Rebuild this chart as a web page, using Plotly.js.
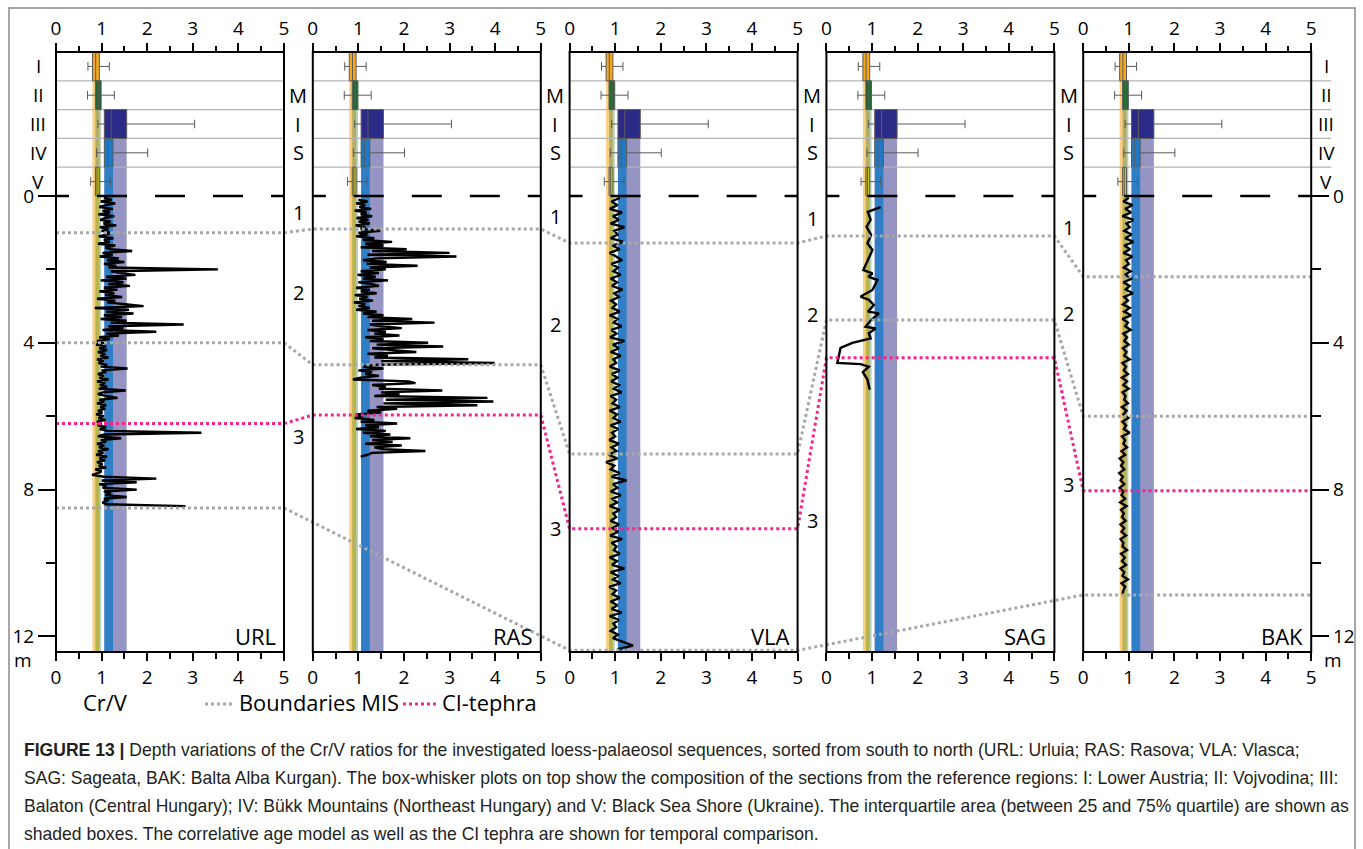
<!DOCTYPE html>
<html><head><meta charset="utf-8">
<script src="https://cdn.plot.ly/plotly-3.0.1.min.js"></script>
<style>html,body{margin:0;padding:0;background:#fff}#chart{width:1363px;height:849px}</style>
</head><body><div id="chart"></div>
<script>
// ---------------- DATA ----------------
const SECTIONS = ['URL', 'RAS', 'VLA', 'SAG', 'BAK'];
const REGIONS = ['I', 'II', 'III', 'IV', 'V'];
const X_TICKS = [0, 1, 2, 3, 4, 5];
const DEPTH_TICKS = [0, 4, 8, 12];

// Box-whisker statistics of Cr/V for the reference regions I..V
const BOX_LOW = [0.70, 0.69, 0.92, 0.89, 0.76];
const BOX_Q1 = [0.80, 0.865, 1.06, 1.06, 0.865];
const BOX_MEDIAN = [0.87, 0.93, 1.21, 1.13, 0.90];
const BOX_Q3 = [0.95, 0.99, 1.55, 1.25, 0.95];
const BOX_HIGH = [1.17, 1.28, 3.04, 2.01, 1.19];
const BOX_COLORS = ['#f6a81c', '#1d6b30', '#2b2a86', '#1f7ac6', '#c9c212'];

// Cr/V profiles (depth in m)
const URL_DEPTH_START = 0.05, URL_DEPTH_STEP = 0.05;
const URL_CRV = [1.05,1.22,0.98,1.30,1.10,0.95,1.25,1.02,1.18,0.93,1.28,1.08,0.97,1.20,1.04,1.32,0.96,1.15,1.00,1.22,
 1.10,0.94,1.26,1.05,1.18,0.92,1.30,1.08,1.20,1.67,1.02,1.24,0.96,1.38,1.12,1.50,1.05,1.32,1.15,3.55,
 1.20,1.42,1.74,1.10,1.55,0.98,1.48,1.15,1.62,1.05,1.35,0.95,1.28,1.08,1.45,0.90,1.30,1.12,1.52,1.92,
 0.85,1.60,1.10,1.70,1.05,1.45,0.98,1.55,1.20,2.80,1.15,1.48,1.02,2.20,1.10,1.38,0.95,1.18,0.90,1.05,
 0.88,1.10,0.95,1.12,0.92,1.08,0.97,1.15,0.90,1.05,0.93,1.12,0.98,1.57,1.00,1.10,0.92,1.05,0.95,1.15,
 0.90,1.08,0.96,1.12,0.94,1.53,1.02,0.92,1.10,1.35,0.95,1.06,0.90,1.10,0.97,1.08,0.92,1.02,0.88,1.05,
 0.93,1.08,0.90,1.00,0.92,1.10,0.96,1.12,3.19,1.05,0.92,1.43,0.98,1.10,0.90,1.06,0.94,1.15,0.92,1.04,
 0.88,1.12,0.95,1.08,0.90,1.02,0.94,1.10,0.86,1.00,0.92,0.79,1.05,2.20,1.00,1.77,0.95,1.10,1.02,1.77,
 1.05,1.20,1.08,1.55,1.05,1.15,1.02,1.10,2.84];

const RAS_DEPTH_START = 0.10, RAS_DEPTH_STEP = 0.05;
const RAS_CRV = [1.00,1.20,0.95,1.15,1.02,1.28,0.92,1.18,1.05,1.30,0.96,1.22,1.00,1.25,0.94,1.15,1.05,1.48,1.00,1.20,
 0.95,1.35,1.10,1.74,1.15,1.55,1.05,2.06,1.30,3.00,1.20,3.15,1.40,1.10,1.62,1.18,2.30,1.25,1.60,1.05,
 1.45,0.98,1.38,1.10,1.65,1.00,1.30,1.45,0.95,1.25,1.05,1.40,0.92,1.20,1.02,1.32,0.90,1.15,1.00,1.25,
 0.95,1.40,1.10,1.55,1.20,2.18,1.30,2.67,1.25,1.50,1.95,1.20,1.60,1.35,1.90,1.15,1.55,1.25,2.53,1.40,
 2.86,1.30,1.75,2.27,1.20,1.65,1.35,3.41,1.50,3.99,1.40,1.10,1.55,1.00,1.30,1.15,1.45,1.05,0.88,2.10,
 2.25,1.30,1.60,1.45,2.84,1.50,1.90,1.35,3.83,1.60,3.96,1.55,3.61,1.40,1.85,1.20,1.50,0.95,1.10,0.92,
 1.35,1.05,1.85,1.15,1.45,0.95,1.60,1.10,1.70,1.25,2.14,1.30,1.75,1.15,1.95,1.35,1.55,2.47,1.30,1.20,1.05];

const VLA_DEPTH_START = 0.05, VLA_DEPTH_STEP = 0.1;
const VLA_CRV = [1.10,0.92,1.05,0.88,1.15,0.95,1.08,0.90,1.20,0.98,
 1.05,0.90,1.18,0.94,1.10,0.88,1.02,1.15,0.92,1.06,
 0.96,1.12,0.90,1.04,0.93,1.16,0.98,1.08,0.91,1.02,
 0.94,1.10,0.88,1.05,0.97,1.14,0.92,1.03,0.89,1.20,
 0.95,1.08,0.90,1.12,0.96,1.02,0.88,1.10,0.93,1.05,
 0.91,1.08,0.97,1.14,0.90,1.02,0.94,1.10,0.88,1.04,
 0.96,1.12,0.90,1.06,0.93,1.00,0.87,1.08,0.92,1.03,
 0.85,1.05,0.80,0.98,0.90,1.10,0.92,1.25,0.95,1.05,
 0.90,1.12,0.94,1.04,0.88,1.10,0.96,1.02,0.90,1.08,
 0.94,1.06,0.89,1.15,0.92,1.03,0.97,1.10,0.88,1.04,
 0.93,1.20,0.90,1.06,0.95,1.12,0.87,1.02,0.94,1.10,
 0.90,1.05,0.92,1.14,0.88,1.08,0.96,1.02,0.90,1.06,
 0.95,1.15,1.39,1.05];

const SAG_DEPTH = [0.30,0.43,0.65,0.84,1.06,1.29,1.47,1.74,2.02,2.11,2.20,2.29,2.56,2.74,2.83,2.97,3.15,3.20,3.38,3.56,3.61,3.74,3.88,4.00,4.14,4.55,4.58,4.65,4.80,5.00,5.28];
const SAG_CRV   = [1.19,0.91,0.97,0.88,0.98,0.90,1.01,0.91,0.81,1.01,0.92,1.12,1.01,0.75,0.93,1.04,0.91,1.15,0.98,0.86,1.08,0.93,0.97,0.57,0.31,0.24,0.75,0.93,0.80,0.90,0.95];

const BAK_DEPTH_START = 0.05, BAK_DEPTH_STEP = 0.1;
const BAK_CRV = [1.00,0.88,1.08,0.92,1.05,0.86,1.10,0.95,1.02,0.90,
 1.06,0.92,1.10,0.90,1.03,0.88,1.08,0.94,1.00,0.89,
 1.04,0.91,1.07,0.88,1.02,0.93,1.09,0.90,0.98,0.87,
 1.02,0.90,1.05,0.86,0.98,0.92,1.04,0.88,0.96,0.90,
 1.00,0.87,0.95,0.90,1.02,0.86,0.94,0.89,0.98,0.85,
 0.96,0.88,1.00,0.86,0.93,0.90,0.98,0.85,0.95,0.88,
 0.99,0.86,0.94,0.89,1.02,0.85,0.92,0.88,0.96,0.84,
 0.92,0.80,0.88,0.83,0.90,0.79,0.87,0.82,0.90,0.80,
 0.88,0.84,0.92,0.81,0.95,0.83,0.89,0.85,0.93,0.82,
 0.90,0.84,0.94,0.82,0.88,0.86,0.96,0.83,0.91,0.85,
 0.94,0.82,0.90,0.86,0.98,0.84,0.92,0.88,0.86];

// Correlation (depth of boundaries in each section, null = not reached)
const MIS_1_2_DEPTH = [1.0, 0.9, 1.28, 1.09, 2.2];
const MIS_2_3_DEPTH = [4.0, 4.6, 7.03, 3.38, 6.0];
const MIS_3_4_DEPTH = [8.5, null, 12.38, null, 10.87];
const CI_TEPHRA_DEPTH = [6.2, 5.97, 9.07, 4.41, 8.03];

// MIS stage labels written in the gaps after each panel
const GAP_MIS_LABELS = ['1', '2', '3'];
const GAP_MIS_DEPTHS = [[0.46, 2.64, 6.54], [0.57, 3.49, 9.05], [0.6, 3.24, 8.83], [0.85, 3.19, 7.85]];

const LEGEND_TEXT = ['Cr/V', 'Boundaries MIS', 'CI-tephra'];
const CAPTION = [
 '<b>FIGURE 13 |</b> Depth variations of the Cr/V ratios for the investigated loess-palaeosol sequences, sorted from south to north (URL: Urluia; RAS: Rasova; VLA: Vlasca;',
 'SAG: Sageata, BAK: Balta Alba Kurgan). The box-whisker plots on top show the composition of the sections from the reference regions: I: Lower Austria; II: Vojvodina; III:',
 'Balaton (Central Hungary); IV: Bükk Mountains (Northeast Hungary) and V: Black Sea Shore (Ukraine). The interquartile area (between 25 and 75% quartile) are shown as',
 'shaded boxes. The correlative age model as well as the CI tephra are shown for temporal comparison.'
];

// ---------------- LAYOUT GEOMETRY ----------------
const W = 1363, H = 849;
const PW = 228, PSTEP = 256.8, PX_START = 56;
const PX0 = SECTIONS.map((s, i) => PX_START + i * PSTEP);
const TOP = 52, ZERO = 196, BOT = 652, PX_PER_M = 36.7;
const DMAX = (BOT - ZERO) / PX_PER_M;
const ROW_H = (ZERO - TOP) / 5;
const fx = px => px / W, fy = py => 1 - py / H;
const FONT = 'Open Sans, sans-serif';
const CAPFONT = '"Liberation Sans", sans-serif';
const GRAY = '#a8a8a8', PINK = '#f5258b';

const cv = document.createElement('canvas').getContext('2d');
function fitSize(text, family, target) { cv.font = '100px ' + family; return 100 * target / cv.measureText(text).width; }

function grid(start, step, vals) { return vals.map((v, i) => +(start + i * step).toFixed(3)); }
const PROFILES = [
  {x: URL_CRV, y: grid(URL_DEPTH_START, URL_DEPTH_STEP, URL_CRV)},
  {x: RAS_CRV, y: grid(RAS_DEPTH_START, RAS_DEPTH_STEP, RAS_CRV)},
  {x: VLA_CRV, y: grid(VLA_DEPTH_START, VLA_DEPTH_STEP, VLA_CRV)},
  {x: SAG_CRV, y: SAG_DEPTH},
  {x: BAK_CRV, y: grid(BAK_DEPTH_START, BAK_DEPTH_STEP, BAK_CRV)}
];

const data = [];
const layout = {
  width: W, height: H, margin: {l: 0, r: 0, t: 0, b: 0},
  paper_bgcolor: '#fff', plot_bgcolor: 'rgba(0,0,0,0)', showlegend: false,
  shapes: [], annotations: [],
  font: {family: FONT, color: '#000'}
};

const axId = n => n === 1 ? '' : String(n);

// depth axes (left on URL, right on BAK)
const depthAxis = {domain: [fy(BOT), fy(ZERO)], range: [DMAX, 0],
  tickmode: 'array', tickvals: DEPTH_TICKS, ticktext: DEPTH_TICKS.map(String),
  ticks: 'outside', ticklen: 17, tickwidth: 2, tickcolor: '#000',
  minor: {ticks: 'outside', dtick: 2, tick0: 0, ticklen: 9, tickwidth: 2, tickcolor: '#000'},
  showgrid: false, zeroline: false, showline: false, tickfont: {size: 19, family: FONT}};
layout.yaxis = Object.assign({}, depthAxis, {anchor: 'x', side: 'left'});
layout.yaxis3 = Object.assign({}, depthAxis, {anchor: 'x5', side: 'right', overlaying: 'y',
  minor: Object.assign({}, depthAxis.minor)});
layout.yaxis2 = {domain: [fy(ZERO), fy(TOP)], range: [4.5, -0.5], anchor: 'x6', visible: false, fixedrange: true};

// band opacities per region (row order I..V) and drawing order
const BAND_OPACITY = [0.55, 0.32, 0.5, 0.85, 0.3];
const BAND_ORDER = [0, 1, 4, 2, 3];

SECTIONS.forEach((name, i) => {
  const dom = [fx(PX0[i]), fx(PX0[i] + PW)];
  const common = {domain: dom, range: [0, 5], tickmode: 'array', tickvals: X_TICKS, ticktext: X_TICKS.map(String),
    ticks: 'outside', ticklen: 8, tickwidth: 2, tickcolor: '#000',
    minor: {ticks: 'outside', dtick: 0.5, tick0: 0, ticklen: 6, tickwidth: 2, tickcolor: '#000'},
    showgrid: false, zeroline: false, showline: false, tickfont: {size: 19, family: FONT}};
  layout['xaxis' + axId(i + 1)] = Object.assign({}, common, {anchor: 'y', side: 'bottom'});
  layout['xaxis' + (i + 6)] = Object.assign({}, common, {anchor: 'y2', side: 'top',
    minor: Object.assign({}, common.minor, {ticklen: 5})});

  // shaded interquartile bands, starting below their region row
  BAND_ORDER.forEach(r => {
    layout.shapes.push({type: 'rect', layer: 'below', xref: 'x' + axId(i + 1), yref: 'paper',
      x0: BOX_Q1[r], x1: BOX_Q3[r], y0: fy(BOT), y1: fy(TOP + (r + 1) * ROW_H),
      fillcolor: BOX_COLORS[r], opacity: BAND_OPACITY[r], line: {width: 0}});
  });
  // row separators
  for (let r = 1; r < 5; r++) {
    layout.shapes.push({type: 'line', xref: 'paper', yref: 'paper', layer: 'below',
      x0: fx(PX0[i]), x1: fx(PX0[i] + PW + (i === 4 ? 20 : 0)), y0: fy(TOP + r * ROW_H), y1: fy(TOP + r * ROW_H),
      line: {color: '#b4b4b4', width: 1.2}});
  }
  // dashed zero line
  layout.shapes.push({type: 'line', xref: 'paper', yref: 'paper', x0: fx(PX0[i]), x1: fx(PX0[i] + PW),
    y0: fy(ZERO), y1: fy(ZERO), line: {color: '#000', width: 2.5, dash: '13px,28px,30px,28px,30px,28px,30px,28px,30px'}});
  // frame
  layout.shapes.push({type: 'rect', xref: 'paper', yref: 'paper', x0: fx(PX0[i]), x1: fx(PX0[i] + PW),
    y0: fy(BOT), y1: fy(TOP), line: {color: '#000', width: 2}, fillcolor: 'rgba(0,0,0,0)'});

  // profile
  data.push({type: 'scatter', mode: 'lines', x: PROFILES[i].x, y: PROFILES[i].y,
    xaxis: 'x' + axId(i + 1), yaxis: i === 4 ? 'y3' : 'y', line: {color: '#000', width: 2.4}, hoverinfo: 'skip'});

  // boxes
  REGIONS.forEach((reg, r) => {
    data.push({type: 'box', orientation: 'h', y: [r], q1: [BOX_Q1[r]], median: [BOX_MEDIAN[r]], q3: [BOX_Q3[r]],
      lowerfence: [BOX_LOW[r]], upperfence: [BOX_HIGH[r]], width: 1, whiskerwidth: 0.3, boxpoints: false,
      fillcolor: BOX_COLORS[r], line: {color: '#5a5a5a', width: 1},
      xaxis: 'x' + (i + 6), yaxis: 'y2', hoverinfo: 'skip'});
  });

  // section name
  layout.annotations.push({xref: 'paper', yref: 'paper', x: fx(PX0[i] + PW - 6), y: fy(636), xanchor: 'right', yanchor: 'middle',
    text: name, showarrow: false, font: {size: 22, family: FONT}});
});

// correlation lines (full-width overlay axis in pixel units)
layout.xaxis11 = {domain: [0, 1], range: [0, W], anchor: 'y', visible: false, fixedrange: true};
function chain(depths) {
  const xs = [], ys = [];
  depths.forEach((d, i) => { if (d == null) return; xs.push(PX0[i], PX0[i] + PW); ys.push(d, d); });
  return {xs, ys};
}
[[MIS_1_2_DEPTH, GRAY], [MIS_2_3_DEPTH, GRAY], [MIS_3_4_DEPTH, GRAY], [CI_TEPHRA_DEPTH, PINK]].forEach(([d, c]) => {
  const ch = chain(d);
  data.push({type: 'scatter', mode: 'lines', x: ch.xs, y: ch.ys, xaxis: 'x11', yaxis: 'y',
    line: {color: c, width: 3, dash: 'dot'}, hoverinfo: 'skip', cliponaxis: false});
});

// row labels
REGIONS.forEach((reg, r) => {
  const yc = fy(TOP + (r + 0.5) * ROW_H);
  layout.annotations.push({xref: 'paper', yref: 'paper', x: fx(38), y: yc, xanchor: 'center', yanchor: 'middle', text: reg, showarrow: false, font: {size: 19}});
  layout.annotations.push({xref: 'paper', yref: 'paper', x: fx(1326), y: yc, xanchor: 'center', yanchor: 'middle', text: reg, showarrow: false, font: {size: 19}});
});
// gaps: MIS letters and stage numbers
['M', 'I', 'S'].forEach((ch, k) => {
  for (let g = 0; g < 4; g++) {
    const xc = (PX0[g] + PW + PX0[g + 1]) / 2;
    layout.annotations.push({xref: 'paper', yref: 'paper', x: fx(xc), y: fy(TOP + (k + 1.5) * ROW_H), text: ch,
      xanchor: 'center', yanchor: 'middle', showarrow: false, font: {size: 20}});
  }
});
GAP_MIS_DEPTHS.forEach((arr, g) => {
  const xc = (PX0[g] + PW + PX0[g + 1]) / 2;
  arr.forEach((d, k) => layout.annotations.push({xref: 'paper', yref: 'y', x: fx(xc), y: d, text: GAP_MIS_LABELS[k],
    xanchor: 'center', yanchor: 'middle', showarrow: false, font: {size: 20}}));
});
// "m" units
[23, 1333].forEach(px => layout.annotations.push({xref: 'paper', yref: 'paper', x: fx(px), y: fy(660),
  text: 'm', xanchor: 'center', yanchor: 'middle', showarrow: false, font: {size: 19}}));

// legend (font fitted to the reference width of "Boundaries MIS")
const legSize = fitSize(LEGEND_TEXT[1], FONT, 160);
const LEG_Y = 702;
layout.annotations.push({xref: 'paper', yref: 'paper', x: fx(105), y: fy(LEG_Y), text: LEGEND_TEXT[0], xanchor: 'center', yanchor: 'middle', showarrow: false, font: {size: legSize}});
layout.shapes.push({type: 'line', xref: 'paper', yref: 'paper', x0: fx(205), x1: fx(232), y0: fy(LEG_Y + 2), y1: fy(LEG_Y + 2), line: {color: GRAY, width: 3, dash: 'dot'}});
layout.annotations.push({xref: 'paper', yref: 'paper', x: fx(237), y: fy(LEG_Y), text: LEGEND_TEXT[1], xanchor: 'left', yanchor: 'middle', showarrow: false, font: {size: legSize}});
layout.shapes.push({type: 'line', xref: 'paper', yref: 'paper', x0: fx(403), x1: fx(437), y0: fy(LEG_Y + 2), y1: fy(LEG_Y + 2), line: {color: PINK, width: 3, dash: 'dot'}});
layout.annotations.push({xref: 'paper', yref: 'paper', x: fx(440), y: fy(LEG_Y), text: LEGEND_TEXT[2], xanchor: 'left', yanchor: 'middle', showarrow: false, font: {size: legSize}});

// caption (font size fitted to the width of the second line)
const capSize = fitSize(CAPTION[1], CAPFONT, 1318);
CAPTION.forEach((t, k) => layout.annotations.push({xref: 'paper', yref: 'paper', x: fx(22), y: fy(750 + k * 28), text: t,
  xanchor: 'left', yanchor: 'middle', showarrow: false, font: {size: capSize, family: CAPFONT, color: '#231f20'}}));

// figure border
layout.shapes.push({type: 'rect', xref: 'paper', yref: 'paper', x0: fx(9), x1: fx(1355), y0: -0.02, y1: fy(8), line: {color: '#8a8a8a', width: 1.5}});

Plotly.newPlot('chart', data, layout, {staticPlot: true});
</script></body></html>
